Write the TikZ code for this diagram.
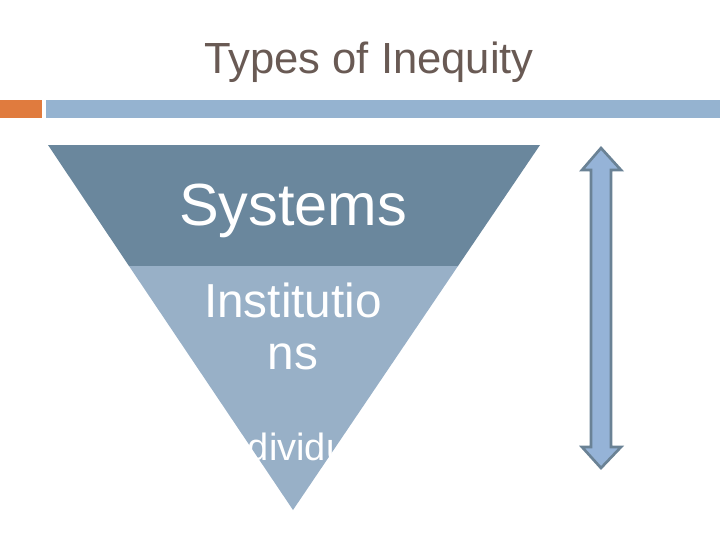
\documentclass[tikz,border=0pt]{standalone}
\usepackage{fontspec}
\setmainfont{Liberation Sans}
\usetikzlibrary{positioning}
\definecolor{titlebrown}{HTML}{695A54}
\definecolor{barorange}{HTML}{E07B3E}
\definecolor{barblue}{HTML}{95B3D0}
\definecolor{topblue}{HTML}{6A879D}
\definecolor{lowblue}{HTML}{98B0C7}
\definecolor{arrowfill}{HTML}{95B3D7}
\definecolor{arrowedge}{HTML}{6A8295}

\begin{document}
\begin{tikzpicture}[x=0.75pt,y=-0.75pt]
  \useasboundingbox (0,0) rectangle (720,540);
  % title
  \node[text=titlebrown,font=\fontsize{32.7}{38}\selectfont] (title) at (369,62) {Types of Inequity};
  % header bars
  \fill[barorange] (0,100) rectangle (42,118);
  \fill[barblue] (46,100) rectangle (720,118);
  % inverted triangle: two bands
  \fill[topblue] (48,145) -- (540,145) -- (458,266) -- (129,266) -- cycle;
  \fill[lowblue] (129,266) -- (458,266) -- (293,510) -- cycle;
  % band labels
  \node[white,font=\fontsize{44.6}{50}\selectfont,anchor=base,inner sep=0pt] (systems) at (293,225) {Systems};
  \node[white,font=\fontsize{35.8}{39}\selectfont,align=center] (institutions) at (293,326) {Institutio\\ns};
  \node[white,font=\fontsize{28.5}{32}\selectfont,anchor=base west,inner sep=0pt] (individuals) at (216,460) {Individuals};
  % double arrow on the right
  \draw[arrowedge,fill=arrowfill,line width=2pt,line join=miter]
    (601,148) -- (621,170) -- (611,170) -- (611,447) -- (621,447) -- (601,468)
    -- (582,447) -- (591,447) -- (591,170) -- (582,170) -- cycle;
\end{tikzpicture}
\end{document}
